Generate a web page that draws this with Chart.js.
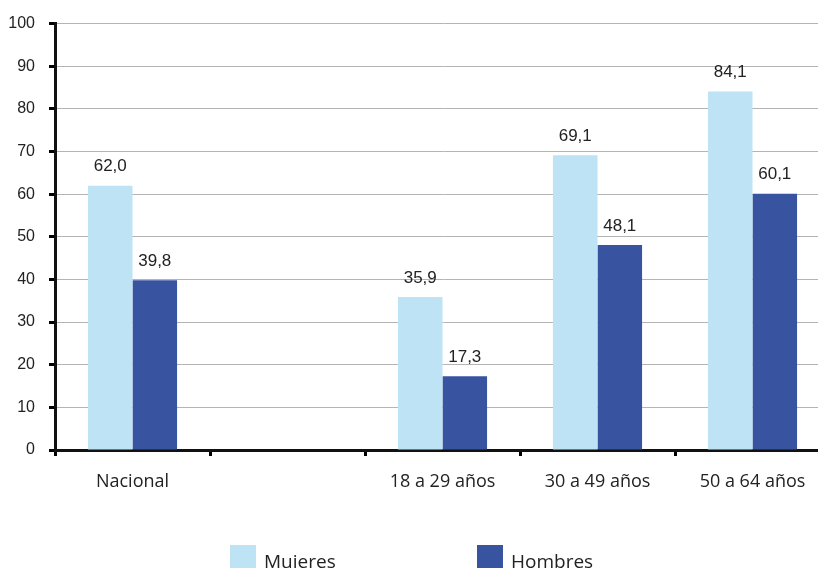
<!DOCTYPE html>
<html>
<head>
<meta charset="utf-8">
<script src="https://cdn.jsdelivr.net/npm/chart.js@4/dist/chart.umd.min.js"></script>
<style>
  html, body { margin: 0; padding: 0; background: #fff; overflow: hidden; width: 818px; height: 568px; }
  #wrap { position: relative; width: 830px; height: 568px; }
  .leg { position: absolute; top: 545px; height: 30px; display: flex; align-items: flex-start; font-family: "Open Sans", sans-serif; font-size: 19px; color: #222; }
  .leg span.box { display: inline-block; width: 26px; height: 26px; margin-right: 8px; }
  .leg span.txt { line-height: 22px; margin-top: 5px; }
</style>
</head>
<body>
<div id="wrap">
  <canvas id="c" width="830" height="568"></canvas>
  <div class="leg" id="leg0" style="left:230px"></div>
  <div class="leg" id="leg1" style="left:477px"></div>
</div>
<script>
const categories = ["Nacional", "", "18 a 29 años", "30 a 49 años", "50 a 64 años"];
const seriesNames = ["Mujeres", "Hombres"];
const mujeres = [62.0, null, 35.9, 69.1, 84.1];
const hombres = [39.8, null, 17.3, 48.1, 60.1];
const colors = ["#BDE3F5", "#3853A0"];

const valueLabels = {
  id: 'valueLabels',
  afterDatasetsDraw(chart) {
    const ctx = chart.ctx;
    ctx.save();
    ctx.font = '17px "Liberation Sans", Arial, sans-serif';
    ctx.fillStyle = '#222';
    ctx.textAlign = 'center';
    ctx.textBaseline = 'middle';
    chart.data.datasets.forEach((ds, i) => {
      const meta = chart.getDatasetMeta(i);
      meta.data.forEach((bar, j) => {
        const v = ds.data[j];
        if (v === null || v === undefined) return;
        ctx.fillText(v.toFixed(1).replace('.', ','), bar.x, bar.y - 19);
      });
    });
    ctx.restore();
  }
};

new Chart(document.getElementById('c'), {
  type: 'bar',
  data: {
    labels: categories,
    datasets: [
      { label: seriesNames[0], data: mujeres, backgroundColor: colors[0], barPercentage: 1.0, categoryPercentage: 0.575 },
      { label: seriesNames[1], data: hombres, backgroundColor: colors[1], barPercentage: 1.0, categoryPercentage: 0.575 }
    ]
  },
  options: {
    responsive: false,
    animation: false,
    layout: { padding: { top: 23, left: 0, right: 0, bottom: 0 } },
    plugins: { legend: { display: false }, tooltip: { enabled: false } },
    scales: {
      x: {
        offset: true,
        grid: { offset: true, drawOnChartArea: false, drawTicks: true, tickLength: 6, tickColor: '#000', tickWidth: 3 },
        border: { display: true, color: '#111', width: 3 },
        ticks: { color: '#222', padding: 15, font: { family: '"Open Sans", sans-serif', size: 18 } },
        afterFit(s) { s.height = 118; }
      },
      y: {
        min: 0, max: 100,
        grid: { color: '#b4b4b4', lineWidth: 1, tickLength: 6, tickColor: '#000', tickWidth: 3 },
        border: { display: true, color: '#111', width: 3 },
        ticks: { stepSize: 10, color: '#222', padding: 14, font: { family: '"Liberation Sans", Arial, sans-serif', size: 16 } },
        afterFit(s) { s.width = 55; }
      }
    }
  },
  plugins: [valueLabels]
});

seriesNames.forEach((n, i) => {
  const el = document.getElementById('leg' + i);
  const b = document.createElement('span'); b.className = 'box'; b.style.background = colors[i];
  const t = document.createElement('span'); t.className = 'txt'; t.textContent = n;
  el.appendChild(b); el.appendChild(t);
});
</script>
</body>
</html>
